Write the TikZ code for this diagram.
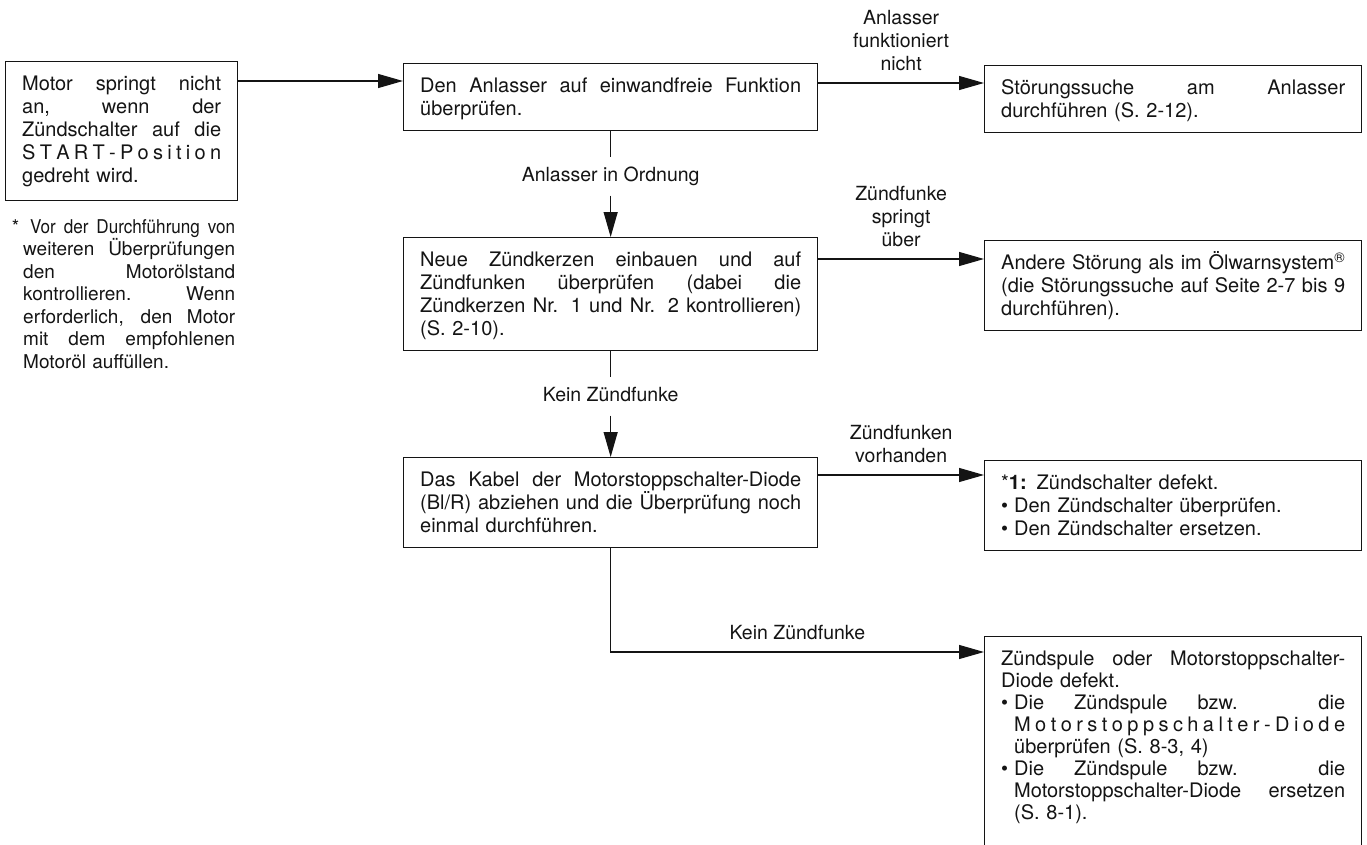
\documentclass[tikz,border=0pt]{standalone}
\usepackage{fontspec}
\setmainfont{TeX Gyre Heros}
\newfontfamily\schmal[FakeStretch=0.9]{TeX Gyre Heros}
\usepackage{xcolor}
\definecolor{ink}{RGB}{20,20,20}
\usepackage{tikz}
\usetikzlibrary{arrows.meta,positioning}

\makeatletter
\newcommand\jl[2][0pt]{\hspace*{#1}\makebox[\dimexpr\linewidth-#1\relax][s]{\spaceskip=0pt \xspaceskip=0pt #2}}
\newcommand\spl[2][0pt]{\hspace*{#1}\hbox to\dimexpr\linewidth-#1\relax{\@tfor\zeichen:=#2\do{\zeichen\hfil}\unskip}}
\makeatother
\newcommand\pkt{\makebox[0pt][l]{•}}
\newcommand\kopf{\rule{0pt}{29pt}}
\newcommand\fuss[1][15pt]{\rule[-#1]{0pt}{#1}\par}

\tikzset{
  kasten/.style={draw=ink, line width=1.3pt, anchor=north west,
                 inner xsep=16.5pt, inner ysep=0pt, align=left, text=ink,
                 font=\fontsize{20}{23}\selectfont},
  mitte/.style={kasten, text width=381pt},
  rechts/.style={kasten, text width=344pt},
  flow/.style={draw=ink, line width=1.2pt, -{Triangle[length=25pt,width=14pt]}},
  linie/.style={draw=ink, line width=1.2pt},
  marke/.style={text=ink, align=center, inner sep=0pt,
                font=\fontsize{19.5}{23}\selectfont},
  zwischen/.style={marke, inner ysep=10pt, text height=14.5pt, text depth=4pt},
  hinweisstil/.style={anchor=north west, inner sep=0pt, text width=212pt,
                 align=left, text=ink, font=\fontsize{19}{22.5}\selectfont},
}

\begin{document}
\begin{tikzpicture}[x=1pt,y=-1pt]
\useasboundingbox (0,0) rectangle (1367,845);

\node[kasten,text width=199pt] (start) at (5,61) {\kopf\jl{Motor springt nicht}\\
  \jl{an, wenn der}\\ \jl{Zündschalter auf die}\\ \spl{START-Position}\\
  gedreht wird.\fuss[18pt]};
\node[hinweisstil] (hinweis) at (23,218) {\rule{0pt}{15pt}\llap{*\hspace{4pt}}\jl[7pt]{\schmal Vor der Durchführung von}\\
  \jl{weiteren Überprüfungen}\\ \jl{den Motorölstand}\\ \jl{kontrollieren. Wenn}\\
  \jl{erforderlich, den Motor}\\ \jl{mit dem empfohlenen}\\ Motoröl auffüllen.\par};

\node[mitte] (anlasser) at (403,63) {\kopf\jl{Den Anlasser auf einwandfreie Funktion}\\
  überprüfen.\fuss};
\node[rechts] (anlasserfehler) at (984,65) {\kopf\jl{Störungssuche am Anlasser}\\
  durchführen (S. 2-12).\fuss};
\node[mitte] (kerzen) at (403,237) {\kopf\jl{Neue Zündkerzen einbauen und auf}\\
  \jl{Zündfunken überprüfen (dabei die}\\
  \jl{Zündkerzen Nr. 1 und Nr. 2 kontrollieren)}\\ (S. 2-10).\fuss};
\node[rechts] (andere) at (984,240) {\kopf\jl{Andere Störung als im Ölwarnsystem\textsuperscript{®}}\\
  \jl{(die Störungssuche auf Seite 2-7 bis 9}\\ durchführen).\fuss};
\node[mitte] (diode) at (403,457) {\kopf\jl{Das Kabel der Motorstoppschalter-Diode}\\
  \jl{(Bl/R) abziehen und die Überprüfung noch}\\ einmal durchführen.\fuss};
\node[rechts] (schalter) at (984,460) {\kopf{}*\textbf{1:} Zündschalter defekt.\\
  \pkt\hspace*{13pt}Den Zündschalter überprüfen.\\
  \pkt\hspace*{13pt}Den Zündschalter ersetzen.\fuss};
\node[rechts, font=\fontsize{20}{22}\selectfont] (spule) at (984,636) {\kopf\jl{Zündspule oder Motorstoppschalter-}\\
  Diode defekt.\\ \pkt\jl[13pt]{Die Zündspule bzw. die}\\
  \spl[13pt]{Motorstoppschalter-Diode}\\ \hspace*{13pt}überprüfen (S. 8-3, 4)\\
  \pkt\jl[13pt]{Die Zündspule bzw. die}\\ \jl[13pt]{Motorstoppschalter-Diode ersetzen}\\
  \hspace*{13pt}(S. 8-1).\fuss[45pt]};

\coordinate (p1) at ([yshift=-20pt]start.north east);
\draw[flow] (p1) -- (p1 -| anlasser.west);

\coordinate (p2) at ([yshift=-20pt]anlasser.north east);
\draw[flow] (p2) -- (p2 -| anlasserfehler.west)
  node[marke, midway, above=12pt] (lnicht) {Anlasser\\funktioniert\\nicht};

\node[zwischen, below=25.5pt of anlasser] (lok) {Anlasser in Ordnung};
\draw[linie] (anlasser.south) -- (lok.north);
\draw[flow] (lok.south) -- (kerzen.north);

\coordinate (p3) at ([yshift=-22pt]kerzen.north east);
\draw[flow] (p3) -- (p3 -| andere.west)
  node[marke, midway, above=12pt] (lueber) {Zündfunke\\springt\\über};

\node[zwischen, below=25.5pt of kerzen] (lkein) {Kein Zündfunke};
\draw[linie] (kerzen.south) -- (lkein.north);
\draw[flow] (lkein.south) -- (diode.north);

\coordinate (p4) at ([yshift=-18pt]diode.north east);
\draw[flow] (p4) -- (p4 -| schalter.west)
  node[marke, midway, above=12pt] (lvorh) {Zündfunken\\vorhanden};

\coordinate (knick) at ([yshift=-16pt]diode.south |- spule.north);
\draw[flow] (diode.south) -- (knick) -- (knick -| spule.west)
  node[marke, midway, above=12pt] (lkein2) {Kein Zündfunke};
\end{tikzpicture}
\end{document}
